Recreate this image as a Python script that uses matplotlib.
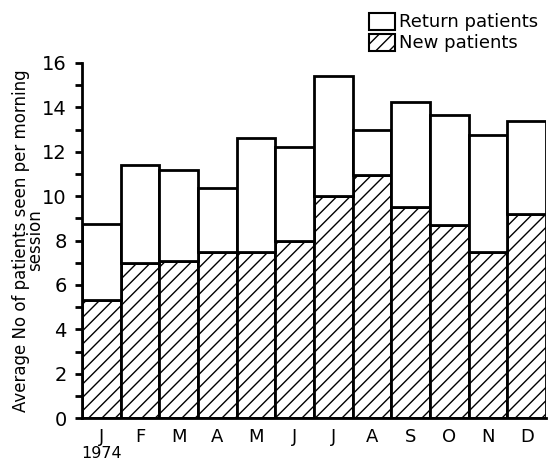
import matplotlib
matplotlib.use("Agg")
import matplotlib.pyplot as plt
from matplotlib.patches import Patch
import numpy as np

# --- data
months = ["J", "F", "M", "A", "M", "J", "J", "A", "S", "O", "N", "D"]
new_patients = [5.3, 7.0, 7.1, 7.5, 7.5, 8.0, 10.0, 10.95, 9.5, 8.7, 7.5, 9.2]
total_patients = [8.75, 11.4, 11.2, 10.35, 12.6, 12.2, 15.4, 13.0, 14.25, 13.65, 12.75, 13.4]
return_patients = [t - n for t, n in zip(total_patients, new_patients)]

# low dpi so the hatch comes out as dense as in the scan; S rescales point sizes
DPI = 80
S = 100 / DPI

plt.rcParams["hatch.linewidth"] = 1.0 * S

fig = plt.figure(figsize=(551 / DPI, 463 / DPI), dpi=DPI)
ax = fig.add_axes([0.149, 0.097, 0.842, 0.767])

x = np.arange(len(months))
ax.bar(x, new_patients, width=1.0, color="white", edgecolor="black",
       linewidth=2 * S, hatch="//")
ax.bar(x, return_patients, bottom=new_patients, width=1.0, color="white",
       edgecolor="black", linewidth=2 * S)

ax.set_xlim(-0.5, 11.5)
ax.set_ylim(0, 16)
ax.set_yticks(range(0, 17, 2))
ax.set_yticks(range(1, 16, 2), minor=True)
ax.set_xticks(x)
ax.set_xticklabels(months, fontsize=13 * S)
ax.tick_params(axis="x", length=0, pad=7 * S)
ax.tick_params(axis="y", which="both", length=5 * S, width=2 * S,
               labelsize=14 * S, pad=6 * S)

ax.spines["top"].set_visible(False)
ax.spines["right"].set_visible(False)
ax.spines["left"].set_linewidth(2 * S)
ax.spines["bottom"].set_linewidth(2 * S)

ax.set_ylabel("Average No of patients seen per morning\nsession", fontsize=12 * S,
              linespacing=0.72)
ax.yaxis.set_label_coords(-0.082, 0.5)

ax.text(0, -1.6, "1974", ha="center", va="center", fontsize=11.5 * S)

handles = [Patch(facecolor="white", edgecolor="black", linewidth=1.5 * S),
           Patch(facecolor="white", edgecolor="black", linewidth=1.5 * S, hatch="//")]
fig.legend(handles, ["Return patients", "New patients"], loc="upper right",
           bbox_to_anchor=(1.0, 1.0), frameon=False, fontsize=13 * S,
           handlelength=1.4, handleheight=1.1, handletextpad=0.25,
           labelspacing=0.12, borderpad=0.2)

fig.savefig("out.png", dpi=DPI)
